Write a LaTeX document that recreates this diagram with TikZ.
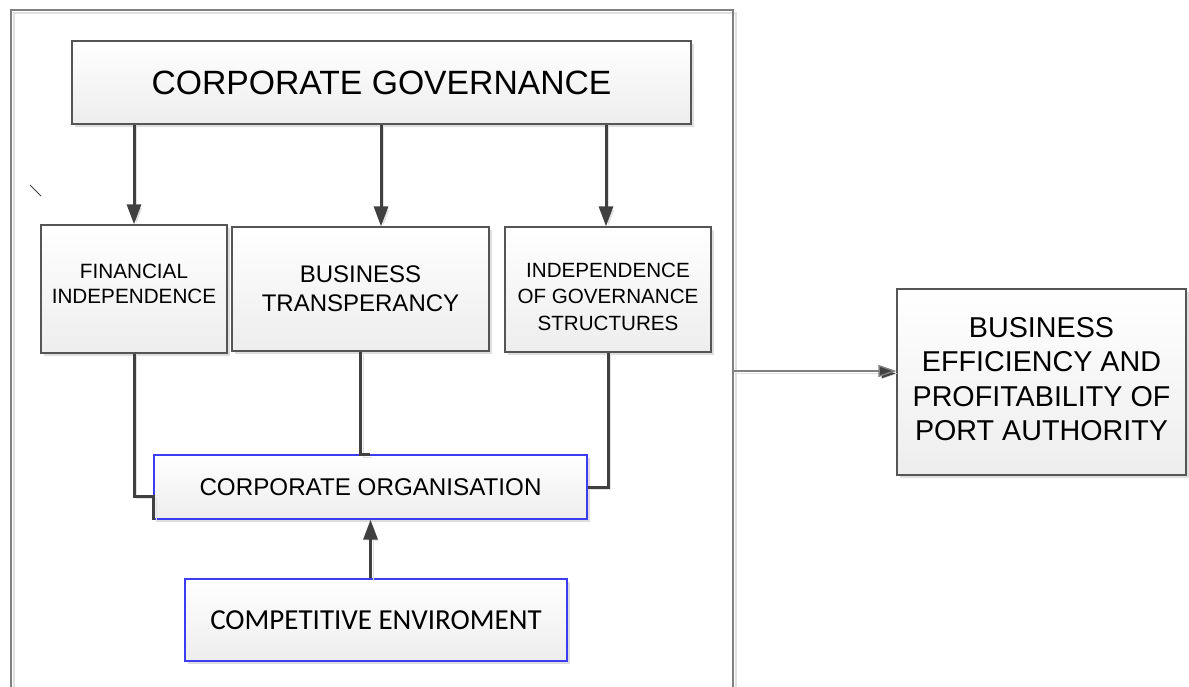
\documentclass[tikz,border=0pt]{standalone}
\usepackage{fontspec}
\setmainfont{Liberation Sans}
\newfontfamily\calib{Carlito}
\usetikzlibrary{arrows.meta,shadows,calc}
\definecolor{boxline}{RGB}{85,85,85}
\definecolor{arrcol}{RGB}{64,64,64}
\definecolor{blueline}{RGB}{60,60,240}
\definecolor{framecol}{RGB}{128,128,128}
\tikzset{
  box/.style={draw=boxline, line width=1.3pt, top color=white, bottom color=black!7,
    align=center, inner sep=0pt,
    drop shadow={shadow xshift=3pt, shadow yshift=-3pt, fill=black!13, opacity=1}},
  bluebox/.style={box, draw=blueline},
  shd/.style={preaction={draw=black!12, transform canvas={shift={(2.5pt,-2.5pt)}}}},
  arr/.style={shd, draw=arrcol, line width=3pt, -{Triangle[length=20pt,width=14pt]}},
  ln/.style={shd, draw=arrcol, line width=3pt},
  thinarr/.style={shd, draw=framecol, line width=1.4pt, -{Triangle[length=18pt,width=12pt,fill=arrcol]}},
}
\begin{document}
\begin{tikzpicture}[x=1pt,y=-1pt]
\useasboundingbox (0,0) rectangle (1189,686);
% frame
\draw[black!12, line width=1.5pt] (14,690) -- (14,13) -- (736,13) -- (736,690);
\draw[framecol, line width=1.8pt] (11,690) -- (11,10) -- (733,10) -- (733,690);
\coordinate (fr) at (733,371);
% stray mark
\draw[black!75, line width=0.9pt] (30,185) -- (41,196);
% nodes
\node[box, minimum width=619pt, minimum height=83pt,
  font=\fontsize{33.7}{40}\selectfont] (cg) at (381.5,82.5) {CORPORATE GOVERNANCE};
\node[box, minimum width=186pt, minimum height=128pt,
  font=\fontsize{20.7}{25}\selectfont] (fi) at (134,289)
  {FINANCIAL\\INDEPENDENCE\rule[-11pt]{0pt}{11pt}};
\node[box, minimum width=257pt, minimum height=124pt,
  font=\fontsize{24}{29}\selectfont] (bt) at (360.5,289) {BUSINESS\\TRANSPERANCY};
\node[box, minimum width=206pt, minimum height=125pt,
  font=\fontsize{20.6}{26.5}\selectfont] (igs) at (608,289.5)
  {\rule{0pt}{29pt}INDEPENDENCE\\OF GOVERNANCE\\STRUCTURES};
\node[bluebox, minimum width=433pt, minimum height=64pt,
  font=\fontsize{24.2}{29}\selectfont] (co) at (370.5,487) {CORPORATE ORGANISATION};
\node[bluebox, minimum width=382pt, minimum height=82pt,
  font=\calib\fontsize{29}{35}\selectfont] (ce) at (376,620) {COMPETITIVE ENVIROMENT};
\node[box, minimum width=289pt, minimum height=186pt,
  font=\fontsize{28.7}{34.5}\selectfont] (res) at (1041.5,382)
  {BUSINESS\\EFFICIENCY AND\\PROFITABILITY OF\\PORT AUTHORITY\rule[-6pt]{0pt}{6pt}};
% arrows from corporate governance
\draw[arr] (cg.south -| fi.north) -- (fi.north);
\draw[arr] (381,0 |- cg.south) -- (381,0 |- bt.north);
\draw[arr] (606,0 |- cg.south) -- (606,0 |- igs.north);
% lines to corporate organisation
\draw[ln] (fi.south) |- ($(co.west)+(0,9)$) -- (co.south west);
\draw[ln] (bt.south) -- (bt.south |- co.north) -- ++(9,0);
\draw[ln] (igs.south) |- (co.east);
% competitive environment to corporate organisation
\draw[arr] (ce.north -| co.south) -- (co.south);
% frame to result
\draw[thinarr] (fr) -- (fr -| res.west);
\end{tikzpicture}
\end{document}
